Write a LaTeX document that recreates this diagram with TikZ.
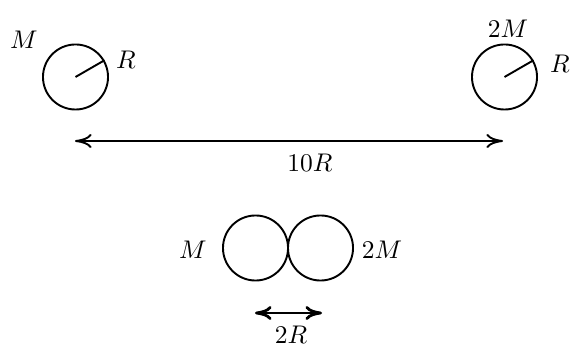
\documentclass[tikz,border=0pt]{standalone}
\usetikzlibrary{arrows.meta}
\begin{document}
\begin{tikzpicture}[x=0.392pt,y=-0.392pt,
  ball/.style={circle,draw,line width=0.75pt,minimum size=25.5pt,inner sep=0pt},
  lbl/.style={inner sep=0pt},
  dim/.style={line width=0.75pt,{To[length=6.5pt,width=5.5pt]}-{To[length=6.5pt,width=5.5pt]}}]
\useasboundingbox (0,0) rectangle (570,345);
\node[ball] (a) at (75.5,77) {};
\node[ball] (b) at (504.5,77) {};
\node[ball] (c) at (255.5,248) {};
\node[ball] (d) at (320.5,248) {};
\draw[line width=0.75pt] (a.center) -- (a.30);
\draw[line width=0.75pt] (b.center) -- (b.30);
\node[lbl] (ma) at (24,40) {$M$};
\node[lbl] (ra) at (126,60) {$R$};
\node[lbl] (mb) at (508,29) {$2M$};
\node[lbl] (rb) at (560,64) {$R$};
\coordinate (l1) at (75,141);
\coordinate (r1) at (503,141);
\draw[dim] (l1) -- (r1);
\node[lbl] (t1) at (310,163) {$10R$};
\node[lbl] (mc) at (193,250) {$M$};
\node[lbl] (md) at (382,250) {$2M$};
\coordinate (l2) at (255,313);
\coordinate (r2) at (322,313);
\draw[dim,line width=1.1pt] (l2) -- (r2);
\node[lbl] (t2) at (291,335) {$2R$};
\end{tikzpicture}
\end{document}
